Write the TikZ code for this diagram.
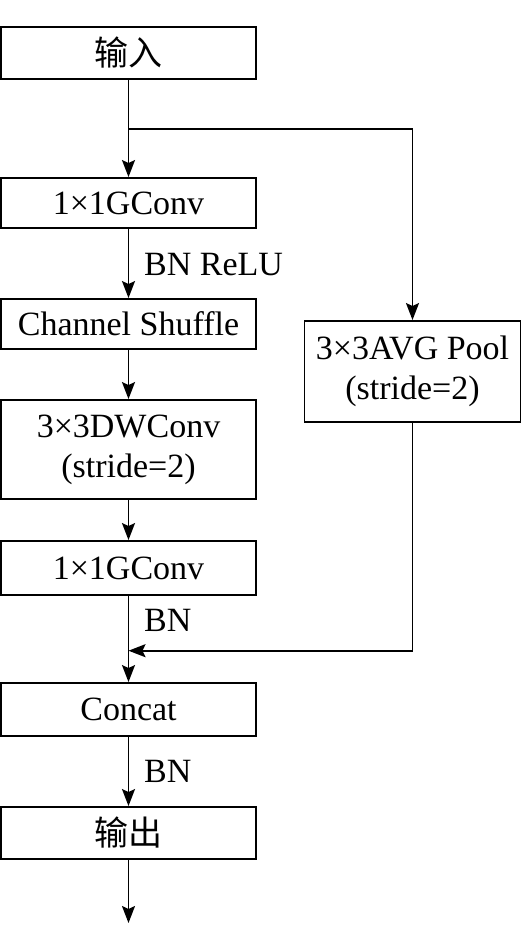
\documentclass[tikz,border=0pt]{standalone}
\usepackage{fontspec}
\setmainfont{Liberation Serif}
\newfontfamily\cjk{Noto Sans CJK SC}
\usetikzlibrary{arrows.meta}
\begin{document}
\begin{tikzpicture}[x=1pt,y=-1pt,
  box/.style={draw, line width=1.9pt, inner sep=0pt, minimum width=255pt, font=\fontsize{34}{39}\selectfont, align=center},
  lbl/.style={inner sep=0pt, anchor=west, font=\fontsize{34}{39}\selectfont},
  wire/.style={line width=1.8pt},
  conn/.style={line width=1.8pt, -{Stealth[length=17pt, width=13pt, inset=3pt]}}]
\useasboundingbox (0,0) rectangle (522,950);
\fill[white] (0,0) rectangle (522,950);
\node[box, minimum height=52pt] (in) at (128.5,53) {\cjk 输入};
\node[box, minimum height=50pt] (g1) at (128.5,203) {1×1GConv};
\node[box, minimum height=50pt] (cs) at (128.5,324) {Channel Shuffle};
\node[box, minimum height=99pt] (dw) at (128.5,449.5) {3×3DWConv\\[1pt](stride=2)};
\node[box, minimum height=54pt] (g2) at (128.5,568) {1×1GConv};
\node[box, minimum height=53pt] (cat) at (128.5,709.5) {Concat};
\node[box, minimum height=52pt] (out) at (128.5,833) {\cjk 输出};
\node[box, minimum width=216pt, minimum height=101pt] (pool) at (412.5,371.5) {3×3AVG Pool\\[1pt](stride=2)};
\coordinate (split) at (128.5,128.7);
\coordinate (corner) at (412.5,128.7);
\coordinate (merge) at (128.5,650.7);
\coordinate (endpt) at (128.5,923);
\draw[conn] (in.south) -- (g1.north);
\draw[conn] (split) -- (corner) -- (pool.north);
\draw[conn] (g1.south) -- (cs.north);
\path (g1.south) -- (cs.north) node[midway, lbl, xshift=15.5pt, yshift=-1pt] (l1) {BN ReLU};
\draw[conn] (cs.south) -- (dw.north);
\draw[conn] (dw.south) -- (g2.north);
\draw[conn] (g2.south) -- (cat.north);
\path (g2.south) -- (merge) node[midway, lbl, xshift=15.5pt, yshift=3pt] (l2) {BN};
\draw[conn] (pool.south) |- (merge);
\draw[conn] (cat.south) -- (out.north);
\path (cat.south) -- (out.north) node[midway, lbl, xshift=15.5pt] (l3) {BN};
\draw[conn] (out.south) -- (endpt);
\end{tikzpicture}
\end{document}
